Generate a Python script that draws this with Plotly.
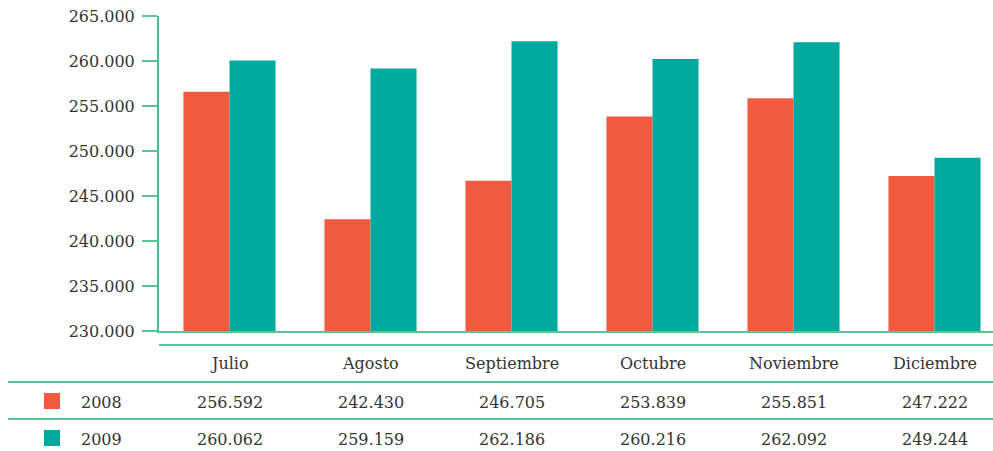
import plotly.graph_objects as go

months = ["Julio", "Agosto", "Septiembre", "Octubre", "Noviembre", "Diciembre"]
series_names = ["2008", "2009"]
values_2008 = [256592, 242430, 246705, 253839, 255851, 247222]
values_2009 = [260062, 259159, 262186, 260216, 262092, 249244]
y_ticks = [230000, 235000, 240000, 245000, 250000, 255000, 260000, 265000]

C08 = "#f05a3f"
C09 = "#00a99d"
GREEN = "#4dbd86"
LINE = "#5cc594"
TXT = "#333333"
FONT = "DejaVu Serif"
FS = 16

W, H = 993, 451
L, T, R = 159, 16, 0
B = H - 331
pw, ph = W - L - R, H - T - B

def py(p):  # pixel y -> paper y
    return (H - B - p) / ph

def px(p):  # pixel x -> paper x
    return (p - L) / pw

x_idx = list(range(len(months)))

fig = go.Figure()
fig.add_bar(x=x_idx, y=values_2008, name=series_names[0], marker_color=C08, marker_line_width=0)
fig.add_bar(x=x_idx, y=values_2009, name=series_names[1], marker_color=C09, marker_line_width=0)

shapes = []
annotations = []
shapes.append(dict(type="line", xref="paper", yref="paper", x0=0, x1=px(1000), y0=py(345), y1=py(345),
                   line=dict(color=LINE, width=2)))
for yy in (382, 419):
    shapes.append(dict(type="line", xref="paper", yref="paper", x0=px(8), x1=px(1000), y0=py(yy), y1=py(yy),
                       line=dict(color=LINE, width=2)))

for i, m in enumerate(months):
    annotations.append(dict(x=i, y=py(363), xref="x", yref="paper", text=m, showarrow=False,
                            font=dict(family=FONT, size=FS, color=TXT), xanchor="center", yanchor="middle"))
for row_y, vals, name, col, sq in ((402, values_2008, series_names[0], C08, 393),
                                   (439, values_2009, series_names[1], C09, 430)):
    for i, v in enumerate(vals):
        annotations.append(dict(x=i, y=py(row_y), xref="x", yref="paper",
                                text=f"{v:,}".replace(",", "."), showarrow=False,
                                font=dict(family=FONT, size=FS, color=TXT), xanchor="center", yanchor="middle"))
    annotations.append(dict(x=px(101), y=py(row_y), xref="paper", yref="paper", text=name, showarrow=False,
                            font=dict(family=FONT, size=FS, color=TXT), xanchor="center", yanchor="middle"))
    shapes.append(dict(type="rect", xref="paper", yref="paper", x0=px(44), x1=px(60), y0=py(sq), y1=py(sq + 16),
                       fillcolor=col, line=dict(width=0)))

fig.update_layout(
    width=W, height=H,
    margin=dict(l=L, r=R, t=T, b=B, pad=0),
    paper_bgcolor="white", plot_bgcolor="white",
    barmode="group", bargap=0.347, bargroupgap=0,
    showlegend=False,
    separators=",.",
    shapes=shapes, annotations=annotations,
    font=dict(family=FONT, size=FS, color=TXT),
)
fig.update_xaxes(range=[-0.5, -0.5 + pw / 141], showticklabels=False, showgrid=False, zeroline=False,
                 showline=True, linecolor=LINE, linewidth=2, ticks="")
fig.update_yaxes(range=[230000, 265000], tickvals=y_ticks, tickformat=",.0f", showgrid=False, zeroline=False,
                 showline=True, linecolor=GREEN, linewidth=2, ticks="outside", ticklen=15, tickwidth=2,
                 tickcolor=LINE, tickfont=dict(family=FONT, size=FS, color=TXT), ticklabelstandoff=4,
                 ticklabeloverflow="allow")

fig.write_html("out.html", config={"displayModeBar": False},
               post_script="document.body.style.margin='0';document.body.style.overflow='hidden';")
